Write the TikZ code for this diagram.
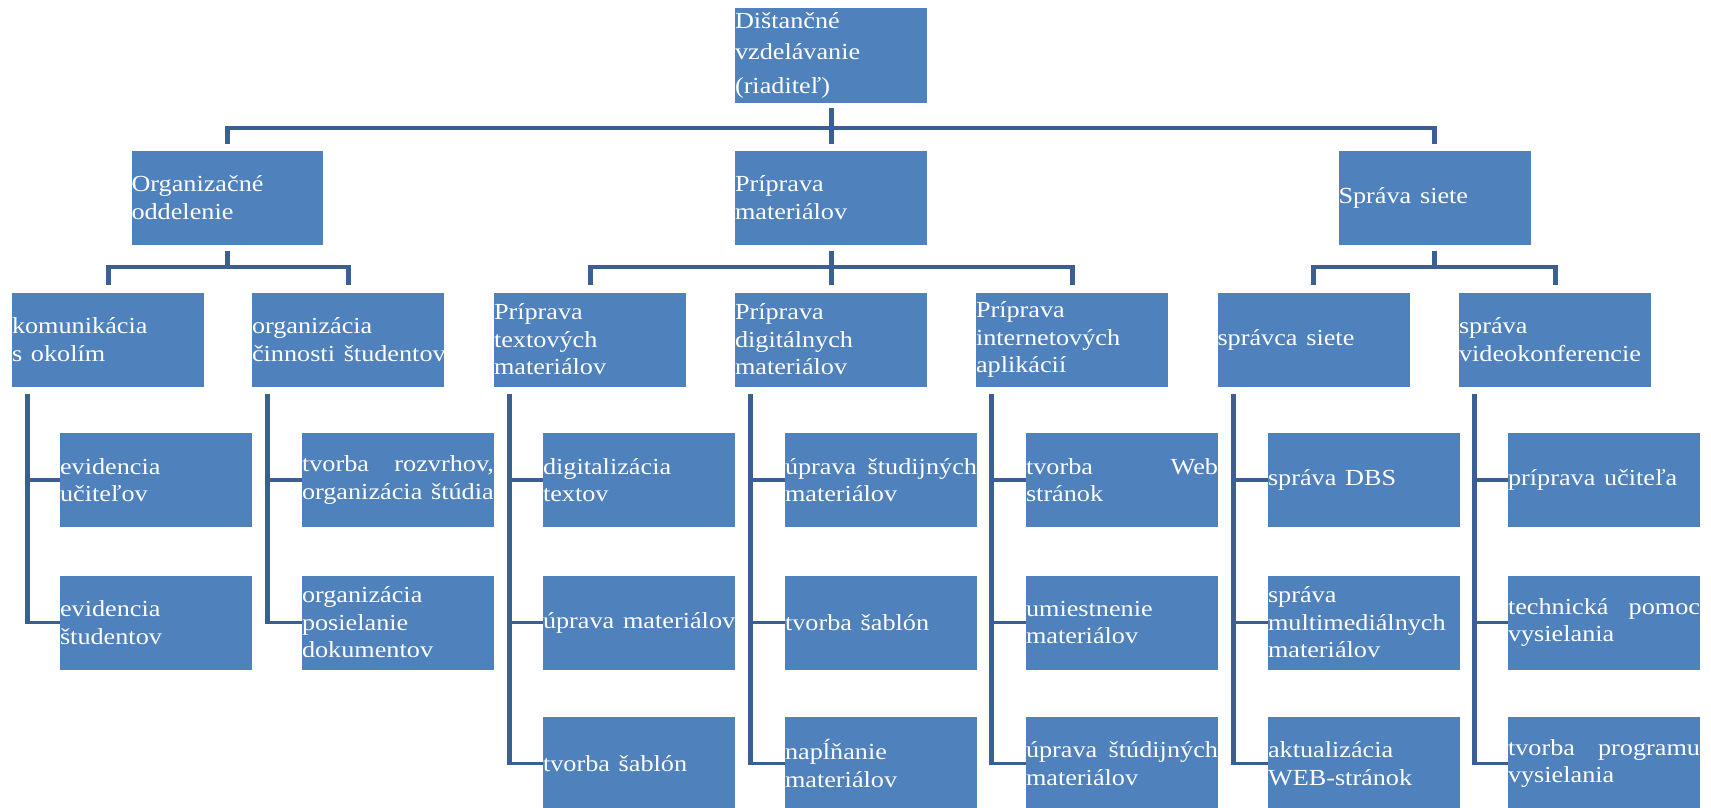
\documentclass[tikz,border=0pt]{standalone}
\usepackage{fontspec}
\setmainfont{Liberation Serif}
\usetikzlibrary{calc}
\definecolor{boxblue}{HTML}{4F81BD}
\definecolor{lineblue}{HTML}{3C5F93}
\newcommand\jline[2]{\makebox[168.4pt][l]{#1\hfill#2}}
\newcommand\boxfontsetup{\fontsize{23}{27.5}\selectfont\hyphenpenalty=10000\relax\exhyphenpenalty=10000\relax}
\begin{document}
\begin{tikzpicture}[x=1pt,y=-1pt,
  orgbox/.style={fill=boxblue, text=white, xscale=1.14, transform shape,
    minimum width=168.4pt, minimum height=94pt,
    text width=168.4pt, inner sep=0pt, align=left, font=\boxfontsetup},
  vline/.style={draw=lineblue, line width=5pt},
  hline/.style={draw=lineblue, line width=3.6pt},
  hbar/.style={hline, shorten <=-2.5pt, shorten >=-2.5pt}]
\clip (0,0) rectangle (1711,808);
\fill[white] (0,0) rectangle (1711,808);

% level 0
\node[orgbox] (root) at (831,55.5) {Dištančné\\[3pt]vzdelávanie\\[7pt](riaditeľ)};
% level 1
\node[orgbox] (org)  at (227.5,197.5) {Organizačné\\oddelenie};
\node[orgbox] (prip) at (831,197.5)   {Príprava\\materiálov};
\node[orgbox] (spr)  at (1434.5,197.5){Správa~siete};
% level 2
\node[orgbox] (kom)   at (108,339.5)   {komunikácia\\s~okolím};
\node[orgbox] (orgc)  at (348,339.5)   {organizácia\\činnosti~študentov};
\node[orgbox] (ptext) at (590,339.5)   {Príprava\\textových\\materiálov};
\node[orgbox] (pdig)  at (831,339.5)   {Príprava\\digitálnych\\materiálov};
\node[orgbox] (pint)  at (1072,339.5)  {Príprava\\internetových\\aplikácií};
\node[orgbox] (sprc)  at (1313.5,339.5){správca~siete};
\node[orgbox] (svid)  at (1555,339.5)  {správa\\videokonferencie};
% level 3
\node[orgbox] (kom1) at (156,480)   {evidencia\\učiteľov};
\node[orgbox] (kom2) at (156,622.5) {evidencia\\študentov};
\node[orgbox] (orgc1) at (398,480)   {\jline{tvorba}{rozvrhov,}\\organizácia~štúdia};
\node[orgbox] (orgc2) at (398,622.5) {organizácia\\posielanie\\dokumentov};
\node[orgbox] (ptext1) at (639,480)   {digitalizácia\\textov};
\node[orgbox] (ptext2) at (639,622.5) {úprava~materiálov};
\node[orgbox] (ptext3) at (639,763.5) {tvorba~šablón};
\node[orgbox] (pdig1) at (881,480)   {\jline{úprava}{študijných}\\materiálov};
\node[orgbox] (pdig2) at (881,622.5) {tvorba~šablón};
\node[orgbox] (pdig3) at (881,763.5) {napĺňanie\\materiálov};
\node[orgbox] (pint1) at (1122,480)   {\jline{tvorba}{Web}\\stránok};
\node[orgbox] (pint2) at (1122,622.5) {umiestnenie\\materiálov};
\node[orgbox] (pint3) at (1122,763.5) {\jline{úprava}{štúdijných}\\materiálov};
\node[orgbox] (sprc1) at (1364,480)   {správa~DBS};
\node[orgbox] (sprc2) at (1364,622.5) {správa\\multimediálnych\\materiálov};
\node[orgbox] (sprc3) at (1364,763.5) {aktualizácia\\WEB-stránok};
\node[orgbox] (svid1) at (1604,480)   {príprava~učiteľa};
\node[orgbox] (svid2) at (1604,622.5) {\jline{technická}{pomoc}\\vysielania};
\node[orgbox] (svid3) at (1604,763.5) {\jline{tvorba}{programu}\\vysielania};

% bar levels
\coordinate (b0) at (0,128);
\coordinate (b1) at (0,267);

% root -> level 1
\draw[vline] ($(root.south)+(0,5)$) -- ($(prip.north)+(0,-6)$);
\draw[hbar] (org |- b0) -- (spr |- b0);
\draw[vline] ($(org |- b0)+(0,-1.8)$) -- ($(org.north)+(0,-6)$);
\draw[vline] ($(spr |- b0)+(0,-1.8)$) -- ($(spr.north)+(0,-6)$);

% level 1 -> level 2
\draw[vline] ($(org.south)+(0,6)$) -- (org |- b1);
\draw[hbar] (kom |- b1) -- (orgc |- b1);
\draw[vline] ($(kom |- b1)+(0,-1.8)$) -- ($(kom.north)+(0,-7)$);
\draw[vline] ($(orgc |- b1)+(0,-1.8)$) -- ($(orgc.north)+(0,-7)$);

\draw[vline] ($(prip.south)+(0,6)$) -- ($(pdig.north)+(0,-7)$);
\draw[hbar] (ptext |- b1) -- (pint |- b1);
\draw[vline] ($(ptext |- b1)+(0,-1.8)$) -- ($(ptext.north)+(0,-7)$);
\draw[vline] ($(pint |- b1)+(0,-1.8)$) -- ($(pint.north)+(0,-7)$);

\draw[vline] ($(spr.south)+(0,6)$) -- (spr |- b1);
\draw[hbar] (sprc |- b1) -- (svid |- b1);
\draw[vline] ($(sprc |- b1)+(0,-1.8)$) -- ($(sprc.north)+(0,-7)$);
\draw[vline] ($(svid |- b1)+(0,-1.8)$) -- ($(svid.north)+(0,-7)$);

% level 2 -> level 3
\foreach \p/\last/\kids in {kom/kom2/{kom1,kom2}, orgc/orgc2/{orgc1,orgc2},
    ptext/ptext3/{ptext1,ptext2,ptext3}, pdig/pdig3/{pdig1,pdig2,pdig3},
    pint/pint3/{pint1,pint2,pint3}, sprc/sprc3/{sprc1,sprc2,sprc3},
    svid/svid3/{svid1,svid2,svid3}}{
  \coordinate (\p v) at ($(\p.south west)+(16,7)$);
  \draw[vline] (\p v) -- ($(\p v |- \last.west)+(0,1.8)$);
  \foreach \c in \kids {
    \draw[hline] (\p v |- \c.west) -- (\c.west);
  }
}
\end{tikzpicture}
\end{document}
